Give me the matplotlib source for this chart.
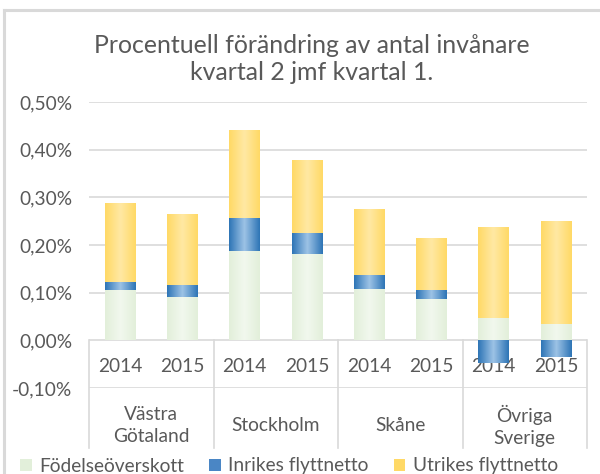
import numpy as np
import matplotlib
matplotlib.use("Agg")
import matplotlib.pyplot as plt
from matplotlib.colors import LinearSegmentedColormap
from matplotlib.patches import Patch
from matplotlib.lines import Line2D

plt.rcParams['font.family'] = ['Lato', 'DejaVu Sans']

regions = ["Västra\nGötaland", "Stockholm", "Skåne", "Övriga\nSverige"]
years = ["2014", "2015"]
fodelse = [0.105, 0.091, 0.188, 0.181, 0.107, 0.087, 0.046, 0.035]
inrikes = [0.017, 0.025, 0.068, 0.045, 0.031, 0.019, -0.048, -0.036]
utrikes = [0.166, 0.149, 0.186, 0.152, 0.137, 0.108, 0.192, 0.216]
series_names = ["Födelseöverskott", "Inrikes flyttnetto", "Utrikes flyttnetto"]
yticks = [-0.1, 0.0, 0.1, 0.2, 0.3, 0.4, 0.5]

TXT = "#595959"
GRID = "#D9D9D9"
FS = 13.8
cmaps = [
    LinearSegmentedColormap.from_list("g", ["#E2EFDA", "#F2F8EE"]),
    LinearSegmentedColormap.from_list("b", ["#2E75B6", "#9DC3E6"]),
    LinearSegmentedColormap.from_list("y", ["#FFD966", "#FFE8A3"]),
]
solid = ["#E2EFDA", "#4A86C5", "#FFD966"]

fig = plt.figure(figsize=(6.0, 4.74), dpi=100)
ax = fig.add_axes([89/600, 1-388/474, (587-89)/600, (388-102)/474])

n = len(fodelse)
x = np.arange(n)
w = 0.49
fod = np.array(fodelse)
inr = np.array(inrikes)
utr = np.array(utrikes)
# Excel-style stacking: positives stack upward, negatives downward
pos_base = np.zeros(n)
neg_base = np.zeros(n)
containers = []
for vals in (fod, inr, utr):
    bottoms = np.where(vals >= 0, pos_base, neg_base)
    c = ax.bar(x, vals, w, bottom=bottoms, color="none", linewidth=0, zorder=3)
    containers.append(c)
    pos_base = pos_base + np.where(vals >= 0, vals, 0)
    neg_base = neg_base + np.where(vals < 0, vals, 0)

grad = (1 - np.abs(np.linspace(-1, 1, 64)))[None, :]
for c, cm in zip(containers, cmaps):
    for p in c.patches:
        x0, y0 = p.get_x(), p.get_y()
        x1, y1 = x0 + p.get_width(), y0 + p.get_height()
        im = ax.imshow(grad, extent=[x0, x1, min(y0, y1), max(y0, y1)], aspect="auto",
                       cmap=cm, vmin=0, vmax=1, zorder=3, interpolation="bilinear")
        im.set_clip_path(p)

ax.set_xlim(-0.5, n - 0.5)
ax.set_ylim(-0.1, 0.5)
ax.set_yticks(yticks)
ax.set_yticklabels([f"{v:.2f}".replace(".", ",") + "%" for v in yticks])
ax.tick_params(axis="y", length=0, labelsize=FS, labelcolor=TXT, pad=12)
ax.set_xticks([])
for s in ax.spines.values():
    s.set_visible(False)
for v in yticks:
    ax.axhline(v, color=GRID, lw=1.2, zorder=1)

# category boxes
ybot = -0.225
for xb in [-0.5, 1.5, 3.5, 5.5, 7.5]:
    ax.plot([xb, xb], [0, ybot], color=GRID, lw=1.2, clip_on=False, zorder=1)
for i in range(n):
    ax.text(x[i], -0.0546, years[i % 2], ha="center", va="center", fontsize=FS,
            color=TXT, zorder=2, clip_on=False)
for g, r in enumerate(regions):
    ax.text(2 * g + 0.5, -0.179, r, ha="center", va="center", fontsize=FS,
            color=TXT, linespacing=1.35, clip_on=False)

fig.text(312/600, 1-59/474, "Procentuell förändring av antal invånare\nkvartal 2 jmf kvartal 1.",
         ha="center", va="center", fontsize=17.9, color=TXT, linespacing=1.2)

handles = [Patch(facecolor=col, edgecolor="none") for col in solid]
fig.legend(handles, series_names, loc="center", bbox_to_anchor=(289/600, 1-466/474),
           ncol=3, frameon=False, fontsize=FS, labelcolor=TXT, handlelength=0.6,
           handleheight=0.6, handletextpad=0.4, columnspacing=1.3)

# outer chart border (top and left visible)
fig.add_artist(Line2D([4/600, 4/600], [0, 1-10/474], color=GRID, lw=2.2))
fig.add_artist(Line2D([4/600, 1], [1-10/474, 1-10/474], color=GRID, lw=2.2))

fig.savefig("out.png", dpi=100)
